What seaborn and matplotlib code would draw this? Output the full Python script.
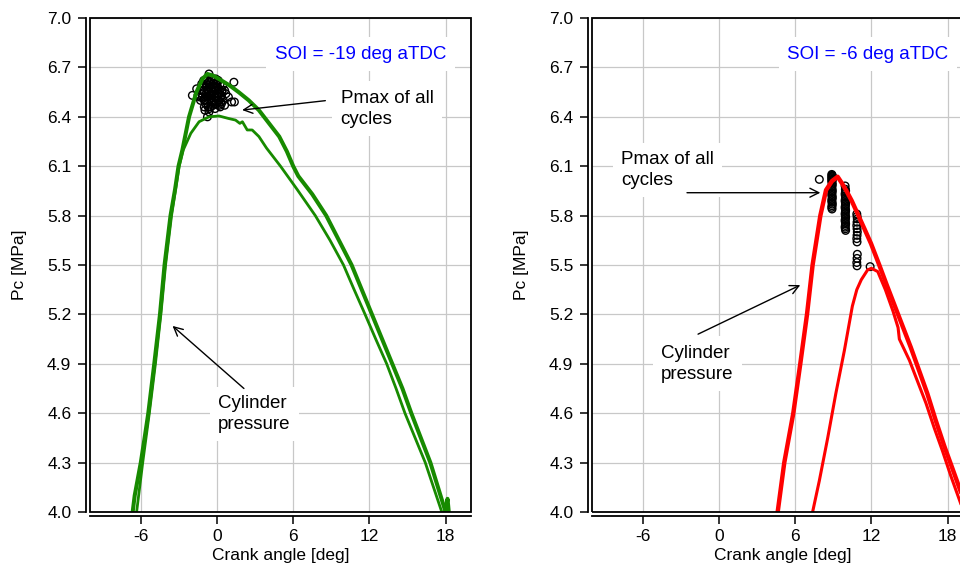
import matplotlib
matplotlib.use("Agg")
import matplotlib.pyplot as plt
from matplotlib.patches import Rectangle
import seaborn as sns

# ---------------- data ----------------
# SOI = -19 deg aTDC (green), two cylinder pressure traces
g_hi_x = [-6.64, -6.48, -6.0, -5.7, -5.41, -4.94, -4.49, -4.13, -3.66, -3.3, -3.03, -2.72, -2.2, -1.62,
          -1.15, -0.76, -0.3, 0.15, 1.0, 1.7, 2.5, 3.3, 4.1, 4.9, 5.5, 6.0, 6.4, 7.5, 8.6, 9.6, 10.6,
          11.4, 12.2, 13.0, 13.8, 14.6, 15.3, 16.05, 16.8, 17.4, 18.0, 18.15, 18.25]
g_hi_y = [4.0, 4.1, 4.3, 4.45, 4.6, 4.9, 5.2, 5.5, 5.8, 5.96, 6.1, 6.2, 6.4, 6.55,
          6.63, 6.66, 6.65, 6.63, 6.59, 6.55, 6.5, 6.44, 6.36, 6.28, 6.19, 6.1, 6.04, 5.93, 5.8, 5.65, 5.5,
          5.35, 5.2, 5.05, 4.9, 4.75, 4.6, 4.45, 4.3, 4.15, 4.0, 4.08, 4.0]
g_lo_x = [-6.33, -5.85, -5.33, -4.85, -4.42, -4.05, -3.58, -2.98, -2.65, -2.06, -1.41, -0.63, 0.16,
          0.9, 1.46, 1.8, 2.0, 2.38, 2.77, 3.3, 3.9, 4.4, 5.0, 6.3, 7.74, 8.9, 9.96, 10.8, 11.66, 12.5,
          13.36, 14.1, 14.8, 15.6, 16.4, 17.05, 17.7, 17.9]
g_lo_y = [4.0, 4.3, 4.6, 4.9, 5.2, 5.5, 5.8, 6.1, 6.2, 6.3, 6.37, 6.4, 6.405,
          6.39, 6.38, 6.36, 6.37, 6.32, 6.32, 6.28, 6.21, 6.16, 6.1, 5.96, 5.8, 5.65, 5.5, 5.35, 5.2, 5.05,
          4.9, 4.75, 4.6, 4.45, 4.3, 4.15, 4.0, 4.0]
# Pmax of all cycles (SOI = -19)
g_pmax_x = [-0.63, 1.33, -1.94, 1.37, 1.15, -0.75, -0.63, 0.60, 0.90, -1.50,
            -1.60, -1.30, -1.20, -1.00, -0.90, -0.80, -0.70, -0.60, -0.50, -0.40,
            -0.30, -0.20, -0.10, 0.00, 0.10, 0.20, 0.30, 0.40, 0.50, -1.10,
            -0.95, -0.85, -0.65, -0.45, -0.35, -0.15, 0.05, 0.25, 0.45, -1.25,
            -0.55, -0.25, 0.15, 0.35, -0.75, -0.50, -0.05, 0.60, 0.70, -1.00,
            -1.15, -1.05, -0.95, -0.85, -0.75, -0.65, -0.55, -0.45, -0.35, -0.25,
            -0.15, -0.05, 0.05, 0.15, 0.25, 0.35, -1.35, -1.05, -0.70, -0.40,
            -0.20, 0.10, 0.30, -0.90, -0.60, -0.30, 0.00, -1.20, -0.80, -0.50,
            -0.10, 0.20, -1.00, -0.70, -0.40, 0.40, -0.60, -0.20, 0.10, -0.85]
g_pmax_y = [6.66, 6.61, 6.53, 6.49, 6.49, 6.40, 6.43, 6.47, 6.52, 6.53,
            6.57, 6.50, 6.60, 6.55, 6.48, 6.62, 6.52, 6.58, 6.46, 6.63,
            6.55, 6.50, 6.60, 6.53, 6.57, 6.47, 6.52, 6.56, 6.50, 6.58,
            6.44, 6.54, 6.61, 6.57, 6.49, 6.45, 6.62, 6.46, 6.59, 6.56,
            6.51, 6.58, 6.50, 6.48, 6.56, 6.54, 6.56, 6.56, 6.54, 6.50,
            6.52, 6.56, 6.50, 6.58, 6.48, 6.55, 6.60, 6.53, 6.58, 6.60,
            6.52, 6.48, 6.58, 6.54, 6.60, 6.53, 6.52, 6.62, 6.46, 6.50,
            6.56, 6.50, 6.49, 6.52, 6.50, 6.47, 6.60, 6.54, 6.59, 6.61,
            6.63, 6.55, 6.46, 6.56, 6.54, 6.55, 6.45, 6.48, 6.62, 6.60]

# SOI = -6 deg aTDC (red)
r_hi_x = [4.62, 5.14, 5.85, 6.4, 6.93, 7.37, 7.98, 8.43, 8.9, 9.34, 9.65, 10.0, 10.45, 10.92, 11.45,
          11.97, 12.62, 13.2, 13.8, 14.45, 15.1, 15.75, 16.4, 17.05, 17.74, 18.4, 19.05, 19.7]
r_hi_y = [4.0, 4.3, 4.6, 4.9, 5.2, 5.5, 5.8, 5.955, 6.01, 6.036, 6.0, 5.955, 5.89, 5.81, 5.72,
          5.63, 5.5, 5.38, 5.26, 5.13, 5.0, 4.86, 4.72, 4.56, 4.40, 4.26, 4.12, 3.98]
r_lo_x = [7.37, 7.9, 8.56, 9.2, 9.87, 10.5, 10.85, 11.2, 11.7, 12.0, 12.5, 13.1, 13.7, 14.1, 14.2,
          15.0, 15.65, 16.3, 16.95, 17.6, 18.25, 18.9, 19.6]
r_lo_y = [4.0, 4.19, 4.45, 4.72, 4.98, 5.25, 5.35, 5.41, 5.47, 5.48, 5.46, 5.35, 5.22, 5.12, 5.05,
          4.92, 4.79, 4.66, 4.51, 4.37, 4.22, 4.08, 3.93]
# Pmax of all cycles (SOI = -6)
r_pmax_x = [7.90,
            8.88, 8.90, 8.92, 8.90, 8.88, 8.90, 8.92, 8.90, 8.88, 8.90, 8.92, 8.90, 8.88,
            8.90, 8.92, 8.90, 8.88, 8.90, 8.92, 8.90, 8.88, 8.90, 8.92, 8.90, 8.88, 8.90,
            9.93, 9.95, 9.97, 9.95, 9.93, 9.95, 9.97, 9.95, 9.93, 9.95, 9.97, 9.95, 9.93, 9.95,
            9.97, 9.95, 9.93, 9.95, 9.97, 9.95, 9.93, 9.95, 9.97, 9.95, 9.93, 9.95, 9.97,
            10.85, 10.87, 10.89, 10.87, 10.85, 10.87, 10.89, 10.87, 10.85, 10.87, 10.89, 10.87,
            10.85, 10.87,
            11.90]
r_pmax_y = [6.02,
            6.050, 6.045, 6.040, 6.035, 6.030, 6.025, 6.020, 6.015, 6.010, 6.000, 5.990, 5.980, 5.970,
            5.960, 5.950, 5.940, 5.930, 5.920, 5.910, 5.900, 5.890, 5.880, 5.870, 5.860, 5.850, 5.840,
            5.980, 5.960, 5.950, 5.940, 5.930, 5.920, 5.910, 5.900, 5.890, 5.880, 5.870, 5.860, 5.850, 5.840,
            5.830, 5.820, 5.810, 5.800, 5.790, 5.780, 5.770, 5.760, 5.750, 5.740, 5.730, 5.720, 5.710,
            5.810, 5.795, 5.780, 5.760, 5.740, 5.720, 5.700, 5.680, 5.660, 5.640, 5.565, 5.540,
            5.515, 5.495,
            5.490]

x_ticks = [-6, 0, 6, 12, 18]
y_ticks = [4.0, 4.3, 4.6, 4.9, 5.2, 5.5, 5.8, 6.1, 6.4, 6.7, 7.0]
y_tick_labels = ["4.0", "4.3", "4.6", "4.9", "5.2", "5.5", "5.8", "6.1", "6.4", "6.7", "7.0"]
x_tick_labels = ["-6", "0", "6", "12", "18"]
soi_labels = ["SOI = -19 deg aTDC", "SOI = -6 deg aTDC"]

# ---------------- style ----------------
sns.set_theme(style="ticks")
plt.rcParams["font.family"] = ["Liberation Sans", "DejaVu Sans"]
plt.rcParams["axes.unicode_minus"] = False
plt.rcParams["text.color"] = "black"
plt.rcParams["axes.labelcolor"] = "black"

GREEN = "#178a00"
RED = "#ff0000"

fig = plt.figure(figsize=(9.6, 5.66), dpi=100)
ax1 = fig.add_axes([90 / 960, 54 / 566, 381 / 960, 494 / 566])
ax2 = fig.add_axes([592 / 960, 54 / 566, 381 / 960, 494 / 566])


def style_axes(ax):
    ax.set_xlim(-10, 20)
    ax.set_ylim(4.0, 7.0)
    ax.set_xticks(x_ticks)
    ax.set_xticklabels(x_tick_labels)
    ax.set_yticks(y_ticks)
    ax.set_yticklabels(y_tick_labels)
    ax.grid(True, color="#c8c8c8", lw=0.9)
    ax.set_axisbelow(True)
    for s in ["top", "right"]:
        ax.spines[s].set_visible(False)
    ax.spines["left"].set_position(("outward", 3))
    ax.spines["bottom"].set_position(("outward", 3))
    for s in ["left", "bottom"]:
        ax.spines[s].set_linewidth(1.3)
        ax.spines[s].set_color("black")
    ax.add_patch(Rectangle((0, 0), 1, 1, transform=ax.transAxes, fill=False,
                           ec="black", lw=1.3, clip_on=False, zorder=6))
    ax.tick_params(axis="both", direction="out", length=6, width=1.1, colors="black",
                   labelsize=12.5, bottom=True, left=True)
    ax.tick_params(axis="x", pad=3.5)
    ax.tick_params(axis="y", pad=4.5)
    ax.set_xlabel("Crank angle [deg]", fontsize=12.5, color="black")
    ax.set_ylabel("Pc [MPa]", fontsize=12.5, color="black")
    ax.xaxis.set_label_coords(0.5, -0.072)
    ax.yaxis.set_label_coords(-0.165, 0.5)


box = dict(boxstyle="square,pad=0.45", fc="white", ec="none")
arrow = dict(arrowstyle="->", color="black", lw=1.0, shrinkA=0, shrinkB=0,
             mutation_scale=16)

# ---- left panel ----
sns.scatterplot(x=g_pmax_x, y=g_pmax_y, ax=ax1, marker="o", s=30, facecolor="none",
                edgecolor="black", linewidth=1.0, zorder=3)
sns.lineplot(x=g_lo_x, y=g_lo_y, ax=ax1, sort=False, estimator=None, color=GREEN, lw=2.0, zorder=4)
sns.lineplot(x=g_hi_x, y=g_hi_y, ax=ax1, sort=False, estimator=None, color=GREEN, lw=2.9, zorder=4)
style_axes(ax1)
ax1.text(11.29, 6.78, soi_labels[0], color="blue", fontsize=13.5, ha="center", va="center",
         bbox=box, zorder=7)
ax1.text(9.73, 6.45, "Pmax of all\ncycles", fontsize=13.5, ha="left", va="center",
         linespacing=1.3, bbox=box, zorder=7, color="black")
ax1.annotate("", xy=(1.98, 6.441), xytext=(8.53, 6.498), arrowprops=arrow, zorder=8)
ax1.text(0.08, 4.595, "Cylinder\npressure", fontsize=13.5, ha="left", va="center",
         linespacing=1.3, bbox=box, zorder=7, color="black")
ax1.annotate("", xy=(-3.5, 5.13), xytext=(2.12, 4.75), arrowprops=arrow, zorder=8)

# ---- right panel ----
sns.scatterplot(x=r_pmax_x, y=r_pmax_y, ax=ax2, marker="o", s=30, facecolor="none",
                edgecolor="black", linewidth=1.0, zorder=3)
sns.lineplot(x=r_lo_x, y=r_lo_y, ax=ax2, sort=False, estimator=None, color=RED, lw=2.2, zorder=4)
sns.lineplot(x=r_hi_x, y=r_hi_y, ax=ax2, sort=False, estimator=None, color=RED, lw=3.2, zorder=4)
style_axes(ax2)
ax2.text(11.73, 6.78, soi_labels[1], color="blue", fontsize=13.5, ha="center", va="center",
         bbox=box, zorder=7)
ax2.text(-7.72, 6.077, "Pmax of all\ncycles", fontsize=13.5, ha="left", va="center",
         linespacing=1.3, bbox=box, zorder=7, color="black")
ax2.annotate("", xy=(7.98, 5.939), xytext=(-2.52, 5.939), arrowprops=arrow, zorder=8)
ax2.text(-4.57, 4.90, "Cylinder\npressure", fontsize=13.5, ha="left", va="center",
         linespacing=1.3, bbox=box, zorder=7, color="black")
ax2.annotate("", xy=(6.4, 5.378), xytext=(-1.65, 5.08), arrowprops=arrow, zorder=8)

fig.savefig("out.png", dpi=100)
